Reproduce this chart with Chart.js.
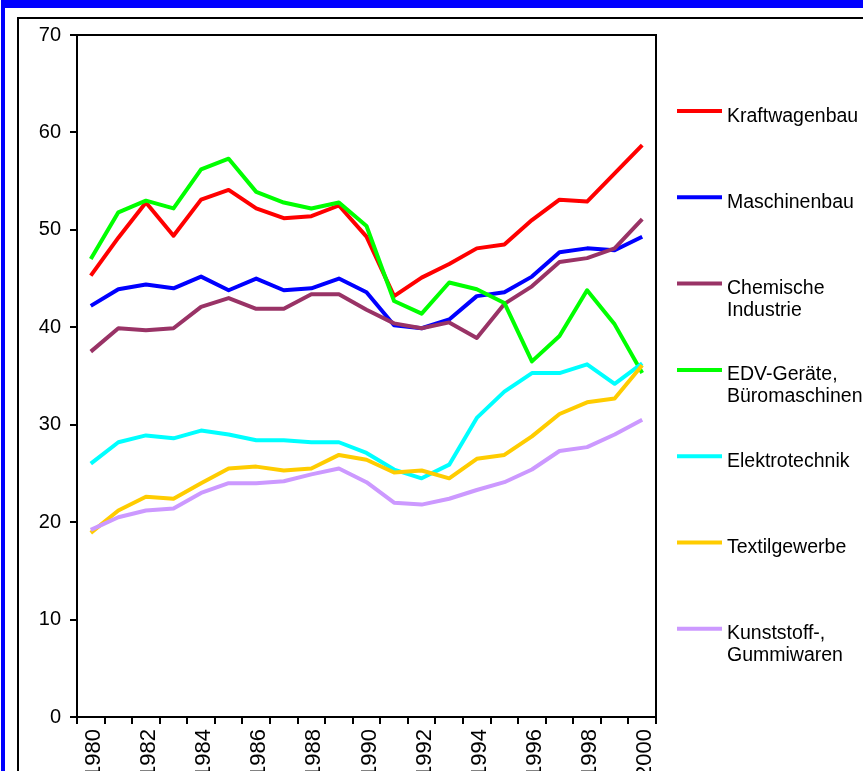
<!DOCTYPE html>
<html>
<head>
<meta charset="utf-8">
<script src="https://cdn.jsdelivr.net/npm/chart.js@4.4.1/dist/chart.umd.min.js"></script>
<style>
  html, body { margin: 0; padding: 0; background: #fff; overflow: hidden; }
  #page { position: absolute; left: 0; top: 0; width: 863px; height: 771px; }
  #blue { position: absolute; left: 1px; top: 0; width: 862px; height: 771px;
          border-top: 8px solid #0000ff; border-left: 4px solid #0000ff; box-sizing: border-box; }
  #frame { position: absolute; left: 17px; top: 17px; width: 846px; height: 754px;
           border-top: 2px solid #000; border-left: 2px solid #000; box-sizing: border-box; }
  canvas { position: absolute; left: 0; top: 0; }
</style>
</head>
<body>
<div id="page">
  <div id="blue"></div>
  <div id="frame"></div>
  <canvas id="myChart" width="863" height="771"></canvas>
</div>
<script>
const years = ["1980", "1981", "1982", "1983", "1984", "1985", "1986", "1987", "1988", "1989", "1990",
    "1991", "1992", "1993", "1994", "1995", "1996", "1997", "1998", "1999", "2000"];

const kraftwagenbau = [45.3, 49.2, 52.8, 49.4, 53.1, 54.1, 52.2, 51.2, 51.4, 52.5, 49.3,
    43.2, 45.1, 46.5, 48.1, 48.5, 51.0, 53.1, 52.9, 55.8, 58.7];
const maschinenbau = [42.2, 43.9, 44.4, 44.0, 45.2, 43.8, 45.0, 43.8, 44.0, 45.0, 43.6,
    40.2, 39.9, 40.8, 43.2, 43.6, 45.2, 47.7, 48.1, 47.9, 49.3];
const chemie = [37.5, 39.9, 39.7, 39.9, 42.1, 43.0, 41.9, 41.9, 43.4, 43.4, 41.8,
    40.4, 39.9, 40.5, 38.9, 42.4, 44.2, 46.7, 47.1, 48.1, 51.1];
const edv = [47.0, 51.8, 53.0, 52.2, 56.2, 57.3, 53.9, 52.8, 52.2, 52.8, 50.4,
    42.7, 41.4, 44.6, 43.9, 42.5, 36.5, 39.1, 43.8, 40.3, 35.3];
const elektro = [26.0, 28.2, 28.9, 28.6, 29.4, 29.0, 28.4, 28.4, 28.2, 28.2, 27.1,
    25.4, 24.5, 25.9, 30.7, 33.4, 35.3, 35.3, 36.2, 34.2, 36.3];
const textil = [18.9, 21.2, 22.6, 22.4, 24.0, 25.5, 25.7, 25.3, 25.5, 26.9, 26.4,
    25.1, 25.3, 24.5, 26.5, 26.9, 28.8, 31.1, 32.3, 32.7, 36.1];
const kunststoff = [19.2, 20.5, 21.2, 21.4, 23.0, 24.0, 24.0, 24.2, 24.9, 25.5, 24.1,
    22.0, 21.8, 22.4, 23.3, 24.1, 25.4, 27.3, 27.7, 29.0, 30.5];

const seriesNames = [["Kraftwagenbau"], ["Maschinenbau"], ["Chemische", "Industrie"],
    ["EDV-Geräte,", "Büromaschinen"], ["Elektrotechnik"], ["Textilgewerbe"], ["Kunststoff-,", "Gummiwaren"]];
const seriesValues = [kraftwagenbau, maschinenbau, chemie, edv, elektro, textil, kunststoff];
const seriesColors = ['#ff0000', '#0000ff', '#993366', '#00ff00', '#00ffff', '#ffcc00', '#cc99ff'];

const yTicks = [0, 10, 20, 30, 40, 50, 60, 70];

const FONT = '"Liberation Sans", Arial, sans-serif';

// box around the plot area and the legend at the right
const boxAndLegend = {
    id: 'boxAndLegend',
    afterDraw(chart) {
        const c = chart.ctx;
        const a = chart.chartArea;
        c.save();
        c.strokeStyle = '#000';
        c.lineWidth = 2;
        c.strokeRect(a.left, a.top, a.right - a.left, a.bottom - a.top);

        c.font = '19.5px ' + FONT;
        c.fillStyle = '#000';
        c.textAlign = 'left';
        c.textBaseline = 'alphabetic';
        chart.data.datasets.forEach((ds, i) => {
            const y = 111 + i * 86.3;
            c.strokeStyle = ds.borderColor;
            c.lineWidth = 4;
            c.beginPath();
            c.moveTo(677, y);
            c.lineTo(722, y);
            c.stroke();
            ds.label.forEach((line, j) => {
                c.fillText(line, 727, y + 10.5 + j * 22);
            });
        });
        c.restore();
    }
};

const ctx = document.getElementById('myChart').getContext('2d');
const myChart = new Chart(ctx, {
    type: 'line',
    data: {
        labels: years,
        datasets: seriesValues.map((vals, i) => ({
            label: seriesNames[i],
            data: vals,
            borderColor: seriesColors[i],
            borderWidth: 4,
            pointRadius: 0,
            tension: 0,
            fill: false,
            borderJoinStyle: 'round',
            order: seriesValues.length - i
        }))
    },
    options: {
        responsive: false,
        animation: false,
        devicePixelRatio: 1,
        layout: { padding: { left: 0, top: 35, right: 207, bottom: 0 } },
        plugins: {
            legend: { display: false },
            tooltip: { enabled: false }
        },
        scales: {
            x: {
                offset: true,
                grid: { offset: true, drawOnChartArea: false, drawTicks: true, tickLength: 7, color: '#000', lineWidth: 2 },
                border: { display: false },
                ticks: {
                    autoSkip: false,
                    maxRotation: 90,
                    minRotation: 90,
                    padding: 5,
                    labelOffset: 3,
                    color: '#000',
                    font: { family: FONT, size: 22 },
                    callback: function (v, i) { return i % 2 === 0 ? years[i] : ''; }
                },
                afterFit(scale) { scale.height = 54; }
            },
            y: {
                min: 0,
                max: 70,
                afterBuildTicks(scale) { scale.ticks = yTicks.map(v => ({ value: v })); },
                grid: { drawOnChartArea: false, drawTicks: true, tickLength: 7, color: '#000', lineWidth: 2 },
                border: { display: false },
                ticks: {
                    padding: 9,
                    color: '#000',
                    font: { family: FONT, size: 20 }
                },
                afterFit(scale) { scale.width = 77; }
            }
        }
    },
    plugins: [boxAndLegend]
});
</script>
</body>
</html>
